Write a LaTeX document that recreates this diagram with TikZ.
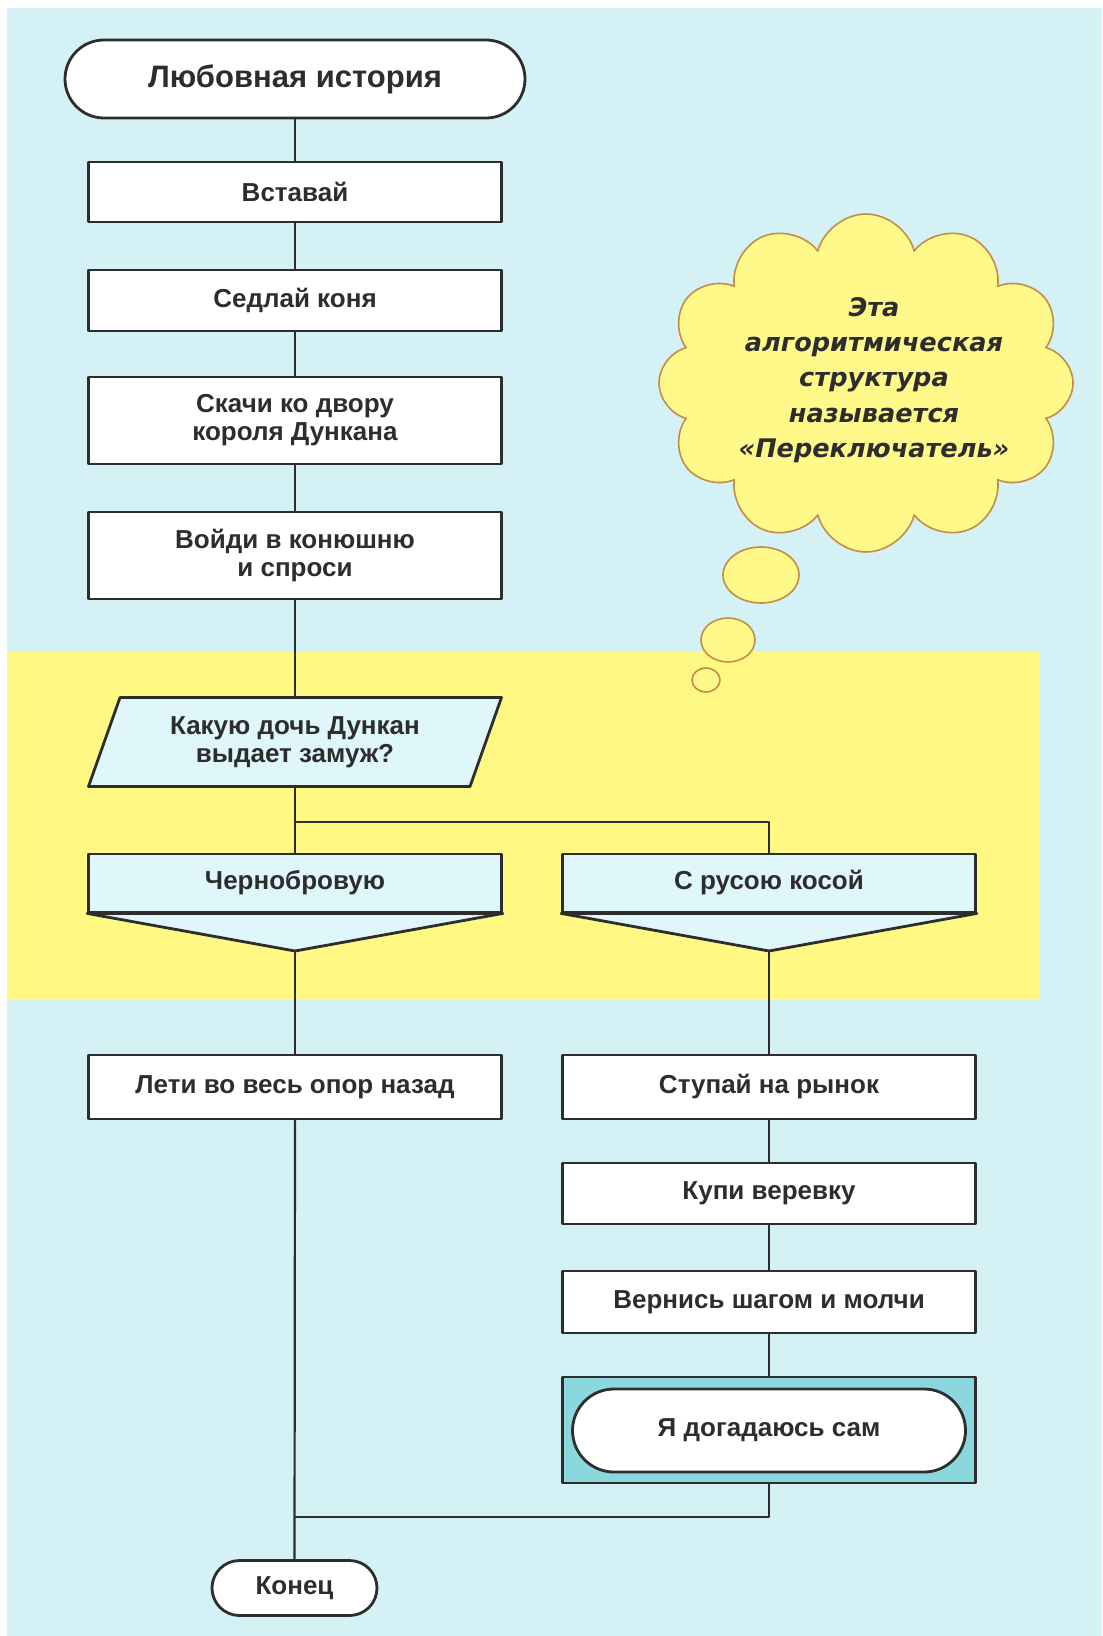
\documentclass[tikz,border=0pt]{standalone}
\usepackage{fontspec}
\setmainfont{Liberation Sans}
\newfontfamily\notefont{DejaVu Sans}
\usetikzlibrary{shapes.geometric,shapes.symbols}
\definecolor{bgcyan}{RGB}{212,241,245}
\definecolor{bandyellow}{RGB}{255,248,130}
\definecolor{askcyan}{RGB}{223,246,250}
\definecolor{selfteal}{RGB}{138,216,222}
\definecolor{cloudfill}{RGB}{255,249,138}
\definecolor{cloudline}{RGB}{196,140,70}
\definecolor{ink}{RGB}{45,45,45}
\begin{document}
\begin{tikzpicture}[x=0.5pt, y=-0.5pt, line join=round, line cap=round,
	font=\bfseries\fontsize{13}{14}\selectfont,
	every node/.style={text=ink, align=center},
	act/.style={draw=ink, line width=1.4pt, fill=white, minimum width=206.5pt, inner sep=2pt},
	term/.style={draw=ink, line width=1.4pt, fill=white, rounded corners=#1, inner sep=2pt},
	casebox/.style={act, fill=askcyan, minimum height=29pt},
	flow/.style={draw=ink, line width=1.1pt},
	bubble/.style={ellipse, draw=cloudline, line width=0.8pt, fill=cloudfill}]
		\def\colL{295} \def\colR{769}
		\useasboundingbox (0,0) rectangle (1102,1636);
		\fill[bgcyan] (7,8) rectangle (1102,1636);
		\fill[bandyellow] (7,652) rectangle (1039,1000);
		% thought cloud
		\node[cloud, cloud puffs=12, cloud ignores aspect, draw=cloudline, line width=0.8pt, fill=cloudfill,
			minimum width=207pt, minimum height=169pt] (cloud) at (866,383) {};
		\node[font=\notefont\bfseries\itshape\fontsize{12.8}{17.6}\selectfont] (note) at (874,380)
			{Эта\\алгоритмическая\\структура\\называется\\«Переключатель»};
		\node[bubble, minimum width=38pt, minimum height=28pt] (bub1) at (761,575) {};
		\node[bubble, minimum width=27pt, minimum height=22pt] (bub2) at (728,640) {};
		\node[bubble, minimum width=14pt, minimum height=12pt] (bub3) at (706,680) {};
		% main column
		\node[term=19.5pt, minimum width=230pt, minimum height=39pt, font=\bfseries\fontsize{15.5}{17}\selectfont] (start) at (\colL,79) {Любовная история};
		\node[act, minimum height=30pt] (up) at (\colL,192) {Вставай};
		\node[act, minimum height=30.5pt] (saddle) at (\colL,300.5) {Седлай коня};
		\node[act, minimum height=43.5pt] (ride) at (\colL,420.5) {Скачи ко двору\\короля Дункана};
		\node[act, minimum height=43.5pt] (ask) at (\colL,555.5) {Войди в конюшню\\и спроси};
		\node[trapezium, trapezium left angle=62, trapezium right angle=118, trapezium stretches body,
			draw=ink, line width=1.4pt, fill=askcyan, minimum width=206.5pt, minimum height=44.5pt, inner sep=2pt] (which) at (\colL,742) {Какую дочь Дункан\\выдает замуж?};
		% switch cases
		\node[casebox] (dark) at (\colL,883) {Чернобровую};
		\node[casebox] (fair) at (\colR,883) {С русою косой};
		\coordinate (tipL) at (\colL,951);
		\coordinate (tipR) at (\colR,951);
		\filldraw[draw=ink, line width=1.4pt, fill=askcyan] (dark.south west) -- (tipL) -- (dark.south east) -- cycle;
		\filldraw[draw=ink, line width=1.4pt, fill=askcyan] (fair.south west) -- (tipR) -- (fair.south east) -- cycle;
		\coordinate (fork) at (\colL,822);
		\node[act, minimum height=32pt] (back) at (\colL,1087) {Лети во весь опор назад};
		\node[act, minimum height=32pt] (market) at (\colR,1087) {Ступай на рынок};
		\node[act, minimum height=30.5pt] (rope) at (\colR,1193.5) {Купи веревку};
		\node[act, minimum height=31pt] (walk) at (\colR,1302) {Вернись шагом и молчи};
		\node[act, fill=selfteal, minimum height=53pt] (self) at (\colR,1430) {};
		\node[term=20.75pt, minimum width=196.5pt, minimum height=41.5pt] (guess) at (\colR,1430.5) {Я догадаюсь сам};
		\coordinate (join) at (\colL,1517);
		\node[term=13.75pt, minimum width=82.5pt, minimum height=27.5pt] (fin) at (294.5,1588) {Конец};
		% connectors
		\draw[flow] (start) -- (up);
		\draw[flow] (up) -- (saddle);
		\draw[flow] (saddle) -- (ride);
		\draw[flow] (ride) -- (ask);
		\draw[flow] (ask.south) -- (which.north -| ask.south);
		\draw[flow] (which.south -| ask.south) -- (dark.north);
		\draw[flow] (fork) -| (fair.north);
		\draw[flow] (tipL) -- (back.north);
		\draw[flow] (tipR) -- (market.north);
		\draw[flow] (market) -- (rope);
		\draw[flow] (rope) -- (walk);
		\draw[flow] (walk) -- (self);
		\draw[flow] (back.south) -- (fin.north);
		\draw[flow] (self.south) |- (join);
	\end{tikzpicture}
\end{document}
